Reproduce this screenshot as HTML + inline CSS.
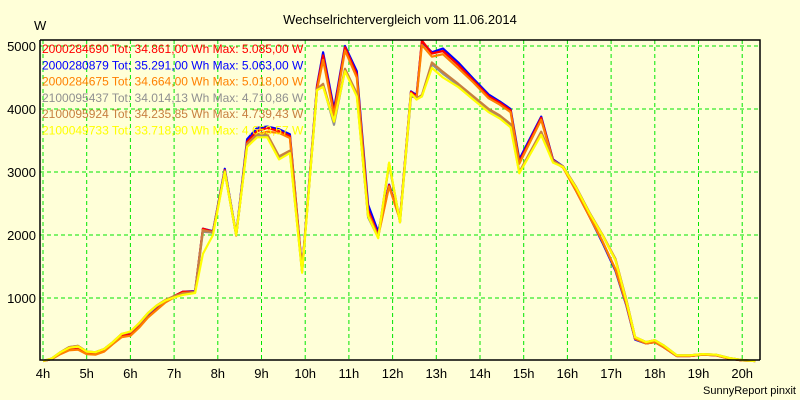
<!DOCTYPE html>
<html><head><meta charset="utf-8"><style>
html,body{margin:0;padding:0;background:#ffffd8;}
svg{display:block;font-family:"Liberation Sans",sans-serif;}
</style></head><body>
<svg id="chart" width="800" height="400" viewBox="0 0 800 400">
<rect x="0" y="0" width="800" height="400" fill="#ffffd8"/>
<text x="400" y="24" text-anchor="middle" font-size="13" fill="#000">Wechselrichtervergleich vom 11.06.2014</text>
<text x="34" y="30" font-size="13" fill="#000">W</text>
<g id="grid"></g>
<g id="series"></g>
<g id="axes"></g>
<g id="legend"></g>
<text x="796" y="394" text-anchor="end" font-size="11" fill="#000">SunnyReport pinxit</text>
</svg>
<script>
const hourTicks = [4,5,6,7,8,9,10,11,12,13,14,15,16,17,18,19,20];
const valueTicks = [1000,2000,3000,4000,5000];
const times = [4.0,4.2,4.4,4.6,4.8,5.0,5.2,5.4,5.6,5.8,6.0,6.2,6.4,6.6,6.8,7.0,7.2,7.48,7.66,7.89,8.16,8.42,8.67,8.9,9.13,9.4,9.65,9.93,10.27,10.41,10.66,10.91,11.18,11.44,11.67,11.92,12.17,12.42,12.55,12.67,12.9,13.15,13.5,13.85,14.2,14.45,14.7,14.9,15.4,15.67,15.9,16.2,16.5,16.8,17.1,17.35,17.55,17.8,18.0,18.2,18.5,18.8,19.1,19.4,19.7,20.0,20.3];
const seriesRed = [0,30,120,180,190,120,110,160,280,400,420,550,700,820,950,1030,1100,1100,2100,2050,3030,2000,3480,3650,3700,3650,3570,1440,4350,4850,3950,4980,4550,2400,2000,2790,2250,4270,4200,5085,4880,4920,4700,4450,4200,4100,3980,3160,3860,3190,3080,2700,2300,1900,1450,900,350,280,300,220,80,80,100,90,40,10,0];
const seriesBlue = [0,30,120,180,190,120,110,160,280,400,430,560,710,830,950,1030,1100,1110,2100,2060,3050,2010,3520,3700,3720,3680,3600,1450,4370,4900,4000,5000,4600,2480,2050,2800,2250,4280,4220,5063,4900,4960,4740,4480,4230,4120,4000,3200,3880,3200,3090,2700,2300,1880,1430,880,340,280,300,220,80,80,100,90,40,10,0];
const seriesOrange = [0,30,110,170,180,110,100,150,270,380,400,530,690,810,930,1010,1080,1090,2080,2030,3000,1990,3450,3600,3640,3620,3540,1430,4300,4780,3900,4930,4500,2350,1980,2770,2240,4240,4180,5018,4830,4870,4650,4420,4170,4070,3950,3130,3830,3170,3070,2700,2300,1900,1450,900,350,280,300,220,80,80,100,90,40,10,0];
const seriesGray = [0,40,140,220,240,150,140,190,300,430,460,590,750,870,960,1020,1060,1090,2050,2040,3010,2000,3420,3580,3570,3220,3320,1410,4300,4380,3750,4620,4230,2280,1960,3120,2200,4200,4180,4200,4710,4560,4380,4180,3980,3880,3740,2990,3620,3170,3090,2760,2360,2000,1600,960,380,300,330,250,90,90,110,100,50,15,0];
const seriesBrown = [0,40,140,220,240,150,140,190,300,430,460,600,760,880,970,1030,1070,1100,2070,2050,3020,2000,3440,3600,3600,3250,3340,1420,4320,4400,3800,4640,4250,2300,1970,3140,2210,4220,4170,4220,4739,4590,4400,4200,4000,3900,3760,3000,3640,3180,3090,2760,2360,2010,1620,970,380,300,330,250,90,90,110,100,50,15,0];
const seriesYellow = [0,40,140,210,230,150,140,190,300,430,470,600,760,880,960,1010,1050,1080,1700,2000,3000,2000,3400,3550,3550,3200,3300,1400,4300,4350,3800,4600,4200,2300,1950,3150,2200,4250,4150,4200,4653,4500,4350,4150,3950,3850,3710,2980,3590,3150,3080,2750,2350,2000,1600,950,380,300,330,250,90,90,110,100,50,15,0];
const legendLabels = ["2000284690 Tot: 34.861,00 Wh Max: 5.085,00 W","2000280879 Tot: 35.291,00 Wh Max: 5.063,00 W","2000284675 Tot: 34.664,00 Wh Max: 5.018,00 W","2100095437 Tot: 34.014,13 Wh Max: 4.710,86 W","2100095924 Tot: 34.235,85 Wh Max: 4.739,43 W","2100049733 Tot: 33.718,90 Wh Max: 4.653,57 W"];

const NS = "http://www.w3.org/2000/svg";
function xs(t){ return 43 + (t-4)*43.7; }
function ys(v){ return 361 - v*0.063; }
function mk(tag, attrs, parent){ const e=document.createElementNS(NS,tag); for(const k in attrs) e.setAttribute(k,attrs[k]); parent.appendChild(e); return e; }

const grid=document.getElementById('grid');
hourTicks.forEach(h=>{
  const l=mk('line',{x1:xs(h),x2:xs(h),y1:40,y2:360,stroke:'#00e600','stroke-width':1,'stroke-dasharray':'4,3'},grid);
  
  
});
valueTicks.forEach(v=>{
  const l=mk('line',{x1:40,x2:760,y1:ys(v),y2:ys(v),stroke:'#00e600','stroke-width':1,'stroke-dasharray':'4,3'},grid);
  
  
});

const seriesList=[
  {d:seriesRed,c:'#ff0000',n:'series-2000284690'},
  {d:seriesBlue,c:'#0000ff',n:'series-2000280879'},
  {d:seriesOrange,c:'#ff8000',n:'series-2000284675'},
  {d:seriesGray,c:'#909090',n:'series-2100095437'},
  {d:seriesBrown,c:'#c88040',n:'series-2100095924'},
  {d:seriesYellow,c:'#ffff00',n:'series-2100049733'}
];
const sg=document.getElementById('series');
[1,0,2,3,4,5].forEach(i=>{
  const s=seriesList[i];
  const pts=times.map((t,j)=>xs(t).toFixed(1)+','+ys(s.d[j]).toFixed(1)).join(' ');
  const p=mk('polyline',{points:pts,fill:'none',stroke:s.c,'stroke-width':2.2,'stroke-linejoin':'round'},sg);
  
  
});

const ax=document.getElementById('axes');
const frame=mk('path',{d:'M40,40 H760 V360 M40,40 V360 H760',fill:'none',stroke:'#000','stroke-width':1.5},ax);


valueTicks.forEach(v=>{
  const t=mk('text',{x:36,y:ys(v)+5,'text-anchor':'end','font-size':13,fill:'#000'},ax);
  t.textContent=String(v);
  
  
});
hourTicks.forEach(h=>{
  const t=mk('text',{x:xs(h),y:378,'text-anchor':'middle','font-size':13,fill:'#000'},ax);
  t.textContent=h+'h';
  
  
});

const lg=document.getElementById('legend');
legendLabels.forEach((lab,i)=>{
  const t=mk('text',{x:42,y:53+i*16.3,'font-size':12,fill:seriesList[i].c},lg);
  t.textContent=lab;
  
  
});
</script>
</body></html>
